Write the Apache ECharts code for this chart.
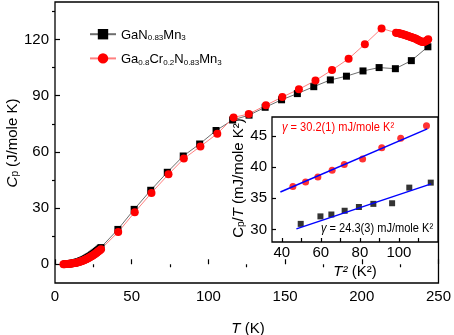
<!DOCTYPE html>
<html>
<head>
<meta charset="utf-8">
<script src="https://cdn.jsdelivr.net/npm/echarts@6/dist/echarts.min.js"></script>
<style>
  html, body { margin: 0; padding: 0; background: #fff; }
  #chart { width: 454px; height: 335px; }
</style>
</head>
<body>
<div id="chart"></div>
<script>
// main panel: Cp vs T
const tGaN = [7.0, 7.8, 8.6, 9.4, 10.2, 11.0, 11.8, 12.6, 13.4, 14.2, 15.0, 15.8, 16.6, 17.4, 18.2, 19.0, 19.8, 20.6, 21.4, 22.2,
  23.0, 23.8, 24.6, 25.4, 26.2, 27.0, 27.8, 28.6, 29.4, 30.0,
  41.0, 51.6, 62.4, 73.2, 83.6, 94.3, 105.0, 115.8, 126.5, 137.0, 147.7, 158.0, 168.7, 179.5, 190.0, 200.8, 211.3, 221.9, 232.3, 243.1];
const cpGaN = [0.1, 0.15, 0.2, 0.3, 0.4, 0.5, 0.6, 0.75, 0.9, 1.1, 1.3, 1.5, 1.75, 2.0, 2.3, 2.6, 2.95, 3.3, 3.7, 4.1,
  4.5, 4.95, 5.4, 5.9, 6.4, 6.9, 7.4, 7.95, 8.5, 8.9,
  18.6, 29.3, 39.5, 49.1, 57.8, 64.2, 71.4, 77.0, 79.6, 83.8, 87.8, 91.1, 94.8, 98.4, 100.4, 103.2, 105.0, 104.4, 108.7, 116.1];

const tCr = [5.5, 6.2, 6.9, 7.6, 8.3, 9.0, 9.7, 10.4, 11.1, 11.8, 12.5, 13.2, 13.9, 14.6, 15.3, 16.0, 16.7, 17.4, 18.1, 18.8,
  19.5, 20.2, 20.9, 21.6, 22.3, 23.0, 23.7, 24.4, 25.1, 25.8, 26.5, 27.2, 27.9, 28.6, 29.3, 30.0,
  41.2, 52.0, 62.9, 74.0, 84.0, 94.8, 105.8, 116.4, 126.3, 137.5, 148.2, 159.0, 169.8, 180.6, 191.4, 202.0, 212.9,
  222.3, 223.0, 223.7, 224.4, 225.1, 225.8, 226.5, 227.2, 227.9, 228.6, 229.3, 230.0, 230.7, 231.4, 232.1, 232.8,
  233.5, 234.2, 234.9, 235.6, 236.3, 237.0, 237.7, 238.4, 239.1, 239.8, 240.5, 241.2, 241.9, 242.6, 243.3];
const cpCr = [0.05, 0.07, 0.1, 0.13, 0.17, 0.22, 0.28, 0.35, 0.43, 0.52, 0.62, 0.74, 0.87, 1.0, 1.15, 1.32, 1.5, 1.7, 1.92, 2.15,
  2.4, 2.66, 2.94, 3.24, 3.55, 3.88, 4.22, 4.58, 4.96, 5.35, 5.76, 6.18, 6.62, 7.07, 7.54, 8.0,
  17.2, 27.8, 38.1, 48.0, 56.4, 62.9, 69.7, 78.4, 80.2, 84.9, 89.3, 93.4, 98.1, 103.7, 109.7, 117.5, 125.9,
  123.6, 123.5, 123.4, 123.3, 123.1, 123.0, 122.8, 122.6, 122.5, 122.3, 122.1, 121.9, 121.7, 121.5, 121.3, 121.1,
  120.9, 120.7, 120.5, 120.2, 119.9, 119.6, 119.3, 119.0, 118.8, 118.7, 118.7, 118.9, 119.2, 119.6, 120.1];

// inset: Cp/T vs T^2
const t2GaN = [49.7, 59.8, 65.4, 72.2, 79.5, 86.9, 96.5, 105.3, 116.3];
const cptGaN = [30.9, 32.1, 32.4, 33.0, 33.6, 34.1, 34.2, 36.7, 37.5];
const t2Cr = [45.7, 52.2, 58.5, 65.8, 72.0, 81.4, 91.2, 100.9, 114.1];
const cptCr = [36.9, 37.6, 38.4, 39.5, 40.4, 41.3, 43.1, 44.6, 46.6];
// linear fits (end points)
const fitGaNx = [47.5, 116.5];
const fitGaNy = [30.1, 37.3];
const fitCrx = [39.3, 114.5];
const fitCry = [36.0, 46.1];

// ticks
const xTicks = [0, 50, 100, 150, 200, 250];
const xMinor = [25, 75, 125, 175, 225];
const yTicks = [0, 30, 60, 90, 120];
const yMinor = [15, 45, 75, 105, 135];
const inXLabels = [40, 60, 80, 100];
const inXTicks = [40, 50, 60, 70, 80, 90, 100, 110];
const inYTicks = [30, 35, 40, 45];

const nameGaN = 'GaN0.83Mn3';
const nameCr = 'Ga0.8Cr0.2N0.83Mn3';

const FONT = 'Arial, "Liberation Sans", sans-serif';

function zip(a, b) {
  const out = [];
  for (let i = 0; i < Math.min(a.length, b.length); i++) out.push([a[i], b[i]]);
  return out;
}

const legendRich = {
  n: { fontSize: 13, fontFamily: FONT, color: '#000', lineHeight: 16, verticalAlign: 'bottom' },
  s: { fontSize: 8, fontFamily: FONT, color: '#000', lineHeight: 6, verticalAlign: 'bottom' }
};
const richTitle = {
  n: { fontSize: 15, fontFamily: FONT, fill: '#000', lineHeight: 18, verticalAlign: 'bottom' },
  i: { fontSize: 15, fontFamily: FONT, fill: '#000', fontStyle: 'italic', lineHeight: 18, verticalAlign: 'bottom' },
  s: { fontSize: 10, fontFamily: FONT, fill: '#000', lineHeight: 8, verticalAlign: 'bottom' }
};

function tickAxis(grid, min, max, ticks, labels, len) {
  return {
    type: 'value', gridIndex: grid, min: min, max: max,
    axisLine: { show: false },
    splitLine: { show: false },
    axisTick: { show: true, inside: true, length: len, customValues: ticks, lineStyle: { color: '#000', width: 1.2 } },
    axisLabel: labels ? { show: true, customValues: labels, fontSize: 15, fontFamily: FONT, color: '#000', margin: 6 } : { show: false }
  };
}

const xMain = tickAxis(0, 0, 250, xTicks, xTicks, 5);
const xMainMinor = tickAxis(0, 0, 250, xMinor, null, 3);
const yMain = tickAxis(0, -10, 140, yTicks, yTicks, 5);
const yMainMinor = tickAxis(0, -10, 140, yMinor, null, 3);
const xIn = tickAxis(1, 35, 120, inXTicks, inXLabels, 4);
xIn.axisLabel.margin = 3;
const yIn = tickAxis(1, 28, 48, inYTicks, inYTicks, 4);
yIn.axisLabel.margin = 5;

const option = {
  backgroundColor: '#fff',
  animation: false,
  grid: [
    { left: 55, top: 2, width: 384, height: 281, show: true, borderColor: '#000', borderWidth: 1.3, backgroundColor: 'transparent' },
    { left: 272, top: 117, width: 166, height: 125, show: true, borderColor: '#000', borderWidth: 1.3, backgroundColor: '#fff' }
  ],
  xAxis: [xMain, xMainMinor, xIn],
  yAxis: [yMain, yMainMinor, yIn],
  legend: {
    data: [nameGaN, nameCr],
    orient: 'vertical',
    left: 84, top: 24,
    itemWidth: 26, itemHeight: 13, itemGap: 11,
    formatter: function (name) {
      if (name === nameGaN) return '{n|GaN}{s|0.83}{n|Mn}{s|3}';
      return '{n|Ga}{s|0.8}{n|Cr}{s|0.2}{n|N}{s|0.83}{n|Mn}{s|3}';
    },
    textStyle: { rich: legendRich }
  },
  series: [
    {
      name: nameGaN, type: 'line', xAxisIndex: 0, yAxisIndex: 0,
      data: zip(tGaN, cpGaN),
      symbol: 'rect', symbolSize: 7,
      itemStyle: { color: '#000' },
      lineStyle: { color: '#6e6e6e', width: 1 }
    },
    {
      name: nameCr, type: 'line', xAxisIndex: 0, yAxisIndex: 0,
      data: zip(tCr, cpCr),
      symbol: 'circle', symbolSize: 8,
      itemStyle: { color: '#ff0000' },
      lineStyle: { color: '#ff8080', width: 1 }
    },
    {
      name: 'fitGaN', type: 'line', xAxisIndex: 2, yAxisIndex: 2,
      data: zip(fitGaNx, fitGaNy), symbol: 'none',
      lineStyle: { color: '#0000ff', width: 1.5 }
    },
    {
      name: 'fitCr', type: 'line', xAxisIndex: 2, yAxisIndex: 2,
      data: zip(fitCrx, fitCry), symbol: 'none',
      lineStyle: { color: '#0000ff', width: 1.5 }
    },
    {
      name: 'insetGaN', type: 'scatter', xAxisIndex: 2, yAxisIndex: 2,
      data: zip(t2GaN, cptGaN), symbol: 'rect', symbolSize: 6,
      itemStyle: { color: '#000' }
    },
    {
      name: 'insetCr', type: 'scatter', xAxisIndex: 2, yAxisIndex: 2,
      data: zip(t2Cr, cptCr), symbol: 'circle', symbolSize: 7,
      itemStyle: { color: '#ff0000' }
    }
  ],
  graphic: [
    // main y title
    {
      type: 'text', x: 11, y: 143, rotation: Math.PI / 2,
      style: { text: '{i|C}{s|p}{n| (J/mole K)}', rich: richTitle, align: 'center', verticalAlign: 'middle', textAlign: 'center', textVerticalAlign: 'middle' }
    },
    // main x title
    {
      type: 'text', x: 248, y: 327,
      style: { text: '{i|T}{n| (K)}', rich: richTitle, align: 'center', verticalAlign: 'middle', textAlign: 'center', textVerticalAlign: 'middle' }
    },
    // inset y title
    {
      type: 'text', x: 237, y: 178, rotation: Math.PI / 2,
      style: { text: '{n|C}{s|p}{n|/}{i|T}{n| (mJ/mole K²)}', rich: richTitle, align: 'center', verticalAlign: 'middle', textAlign: 'center', textVerticalAlign: 'middle' }
    },
    // inset x title
    {
      type: 'text', x: 355, y: 270,
      style: { text: '{i|T²}{n| (K²)}', rich: richTitle, align: 'center', verticalAlign: 'middle', textAlign: 'center', textVerticalAlign: 'middle' }
    },
    // gamma annotations
    {
      type: 'text', x: 282, y: 127, scaleX: 0.85, z: 100,
      style: {
        text: '{g|γ}{t| = 30.2(1) mJ/mole K²}', align: 'left', verticalAlign: 'middle', textAlign: 'left', textVerticalAlign: 'middle',
        rich: {
          g: { fontSize: 13, fontFamily: FONT, fontStyle: 'italic', fill: '#ff0000' },
          t: { fontSize: 13, fontFamily: FONT, fill: '#ff0000' }
        }
      }
    },
    {
      type: 'text', x: 321, y: 228, scaleX: 0.85, z: 100,
      style: {
        text: '{g|γ}{t| = 24.3(3) mJ/mole K²}', align: 'left', verticalAlign: 'middle', textAlign: 'left', textVerticalAlign: 'middle',
        rich: {
          g: { fontSize: 13, fontFamily: FONT, fontStyle: 'italic', fill: '#000' },
          t: { fontSize: 13, fontFamily: FONT, fill: '#000' }
        }
      }
    }
  ]
};

const chart = echarts.init(document.getElementById('chart'), null, { renderer: 'canvas' });
chart.setOption(option);
</script>
</body>
</html>
